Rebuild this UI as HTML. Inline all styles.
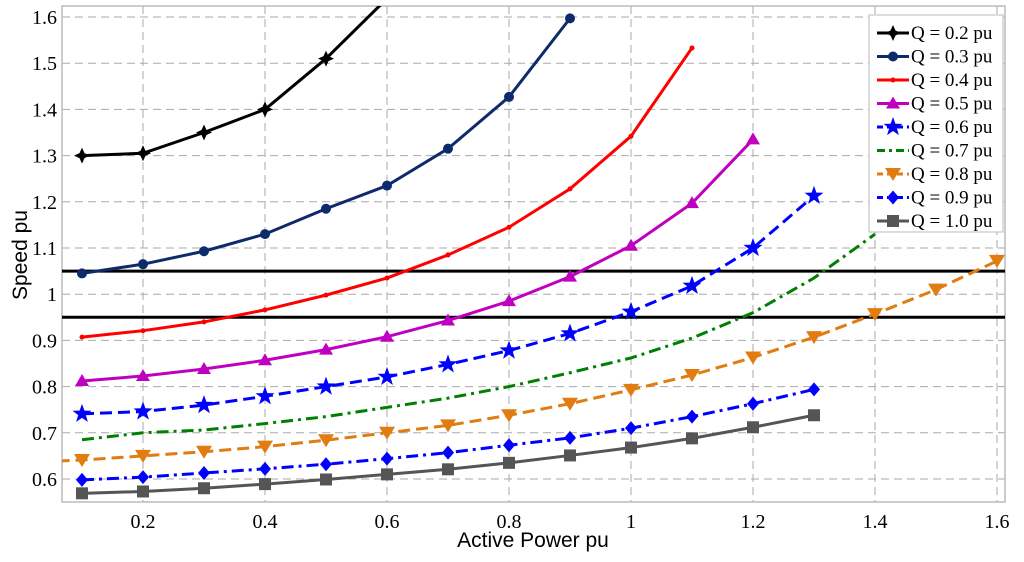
<!DOCTYPE html>
<html><head><meta charset="utf-8"><style>
body{margin:0;background:#fff;width:1024px;height:557px;overflow:hidden}
svg text{font-family:"Liberation Serif",serif}
</style></head><body>
<svg id="chart" width="1024" height="557" xmlns="http://www.w3.org/2000/svg"></svg>
<script>
const xTicks=[0.2,0.4,0.6,0.8,1,1.2,1.4,1.6];
const xTickLabels=["0.2","0.4","0.6","0.8","1","1.2","1.4","1.6"];
const yTicks=[0.6,0.7,0.8,0.9,1,1.1,1.2,1.3,1.4,1.5,1.6];
const yTickLabels=["0.6","0.7","0.8","0.9","1","1.1","1.2","1.3","1.4","1.5","1.6"];
const seriesNames=["Q = 0.2 pu","Q = 0.3 pu","Q = 0.4 pu","Q = 0.5 pu","Q = 0.6 pu","Q = 0.7 pu","Q = 0.8 pu","Q = 0.9 pu","Q = 1.0 pu"];
const xQ02=[0.1,0.2,0.3,0.4,0.5,0.6];
const yQ02=[1.30,1.305,1.35,1.40,1.51,1.64];
const xQ03=[0.1,0.2,0.3,0.4,0.5,0.6,0.7,0.8,0.9];
const yQ03=[1.045,1.065,1.093,1.13,1.185,1.235,1.315,1.427,1.597];
const xQ04=[0.1,0.2,0.3,0.4,0.5,0.6,0.7,0.8,0.9,1.0,1.1];
const yQ04=[0.907,0.921,0.94,0.966,0.998,1.035,1.085,1.145,1.228,1.342,1.533];
const xQ05=[0.1,0.2,0.3,0.4,0.5,0.6,0.7,0.8,0.9,1.0,1.1,1.2];
const yQ05=[0.812,0.823,0.838,0.857,0.88,0.908,0.943,0.985,1.038,1.105,1.197,1.335];
const xQ06=[0.1,0.2,0.3,0.4,0.5,0.6,0.7,0.8,0.9,1.0,1.1,1.2,1.3];
const yQ06=[0.741,0.746,0.76,0.779,0.8,0.821,0.848,0.878,0.915,0.962,1.018,1.1,1.213];
const xQ07=[0.1,0.2,0.3,0.4,0.5,0.6,0.7,0.8,0.9,1.0,1.1,1.2,1.3,1.4];
const yQ07=[0.685,0.7,0.706,0.72,0.735,0.755,0.775,0.8,0.83,0.862,0.905,0.96,1.035,1.13];
const xQ08=[0.06,0.1,0.2,0.3,0.4,0.5,0.6,0.7,0.8,0.9,1.0,1.1,1.2,1.3,1.4,1.5,1.6];
const yQ08=[0.639,0.641,0.65,0.659,0.67,0.684,0.7,0.716,0.738,0.763,0.793,0.825,0.863,0.907,0.957,1.01,1.072];
const xQ09=[0.1,0.2,0.3,0.4,0.5,0.6,0.7,0.8,0.9,1.0,1.1,1.2,1.3];
const yQ09=[0.598,0.604,0.613,0.622,0.632,0.644,0.657,0.673,0.689,0.71,0.735,0.763,0.794];
const xQ10=[0.1,0.2,0.3,0.4,0.5,0.6,0.7,0.8,0.9,1.0,1.1,1.2,1.3];
const yQ10=[0.569,0.573,0.58,0.589,0.599,0.61,0.621,0.635,0.651,0.668,0.688,0.712,0.738];
const limits=[1.05,0.95];

const NS="http://www.w3.org/2000/svg";
const svg=document.getElementById('chart');
const L=62,R=1005,T=6,B=502;
function X(v){return 21+v*610;}
function Y(v){return 479-(v-0.6)*462;}
function mk(tag,attrs,parent){const e=document.createElementNS(NS,tag);for(const k in attrs)e.setAttribute(k,attrs[k]);(parent||svg).appendChild(e);return e;}

const defs=mk('defs',{});
const cp=mk('clipPath',{id:'clip'},defs);mk('rect',{x:L,y:T,width:R-L,height:B-T},cp);

const grid=mk('g',{});


xTicks.forEach((t,i)=>{
  const l=mk('line',{x1:X(t),x2:X(t),y1:T,y2:B,stroke:'#aaa','stroke-dasharray':'8,5','stroke-width':1},grid);
  
  
  const tx=mk('text',{x:X(t),y:528,'font-size':20,'text-anchor':'middle'});
  tx.textContent=xTickLabels[i];
  
  
});
yTicks.forEach((t,i)=>{
  const l=mk('line',{x1:L,x2:R,y1:Y(t),y2:Y(t),stroke:'#aaa','stroke-dasharray':'8,5','stroke-width':1},grid);
  
  
  const tx=mk('text',{x:57,y:Y(t)+7,'font-size':20,'text-anchor':'end'});
  tx.textContent=yTickLabels[i];
  
  
});
const frame=mk('rect',{x:L,y:T,width:R-L,height:B-T,fill:'none',stroke:'#bbb','stroke-width':1.5});



const plot=mk('g',{'clip-path':'url(#clip)'});
limits.forEach(v=>{
  const l=mk('line',{x1:L,x2:R,y1:Y(v),y2:Y(v),stroke:'#000','stroke-width':3},plot);
  
  
});

function marker(g,type,x,y,c){
  let e;
  if(type==='star4'){e=mk('path',{d:`M${x},${y-8}L${x+2.5},${y-2.5}L${x+8},${y}L${x+2.5},${y+2.5}L${x},${y+8}L${x-2.5},${y+2.5}L${x-8},${y}L${x-2.5},${y-2.5}Z`,fill:c},g);}
  else if(type==='circle'){e=mk('circle',{cx:x,cy:y,r:5,fill:c},g);}
  else if(type==='dot'){e=mk('circle',{cx:x,cy:y,r:2.5,fill:c},g);}
  else if(type==='tri'){e=mk('path',{d:`M${x},${y-7}L${x+7},${y+5}L${x-7},${y+5}Z`,fill:c},g);}
  else if(type==='star5'){let p='';for(let k=0;k<10;k++){const r=k%2?4:10,a=-Math.PI/2+k*Math.PI/5;p+=(k?'L':'M')+(x+r*Math.cos(a)).toFixed(1)+','+(y+r*Math.sin(a)).toFixed(1);}e=mk('path',{d:p+'Z',fill:c},g);}
  else if(type==='tridown'){e=mk('path',{d:`M${x},${y+7}L${x+8},${y-6}L${x-8},${y-6}Z`,fill:c},g);}
  else if(type==='diamond'){e=mk('path',{d:`M${x},${y-7}L${x+6},${y}L${x},${y+7}L${x-6},${y}Z`,fill:c},g);}
  else if(type==='square'){e=mk('rect',{x:x-6,y:y-6,width:12,height:12,fill:c},g);}
  return e;
}
const styles=[
 {xs:xQ02,ys:yQ02,c:'#000',d:'',m:'star4'},
 {xs:xQ03,ys:yQ03,c:'#0d2a6b',d:'',m:'circle'},
 {xs:xQ04,ys:yQ04,c:'#f00',d:'',m:'dot'},
 {xs:xQ05,ys:yQ05,c:'#c000c0',d:'',m:'tri'},
 {xs:xQ06,ys:yQ06,c:'#0000ff',d:'12,6',m:'star5'},
 {xs:xQ07,ys:yQ07,c:'#008000',d:'12,5,3,5',m:null},
 {xs:xQ08,ys:yQ08,c:'#e07c10',d:'12,6',m:'tridown'},
 {xs:xQ09,ys:yQ09,c:'#0000ff',d:'12,5,3,5',m:'diamond'},
 {xs:xQ10,ys:yQ10,c:'#555',d:'',m:'square'}
];
styles.forEach((s,i)=>{
  const g=mk('g',{},plot);
  
  
  const pts=s.xs.map((x,j)=>X(x)+','+Y(s.ys[j])).join(' ');
  const pl=mk('polyline',{points:pts,fill:'none',stroke:s.c,'stroke-width':3,'stroke-dasharray':s.d},g);
  
  
  if(s.m) s.xs.forEach((x,j)=>{ if(x<0.09) return; const e=marker(g,s.m,X(x),Y(s.ys[j]),s.c);
    
    });
});

const leg=mk('g',{});


mk('rect',{x:869,y:15,width:134,height:217,fill:'#fff',stroke:'#bbb','stroke-width':1},leg);
styles.forEach((s,i)=>{
  const y=33+i*23.5;
  const g=mk('g',{},leg);
  
  
  mk('line',{x1:877,x2:909,y1:y,y2:y,stroke:s.c,'stroke-width':3,'stroke-dasharray':s.d?(s.m?'6,4':'8,4,3,4'):''},g);
  if(s.m) marker(g,s.m,893,y,s.c);
  const t=mk('text',{x:911,y:y+6,'font-size':19},g);
  t.textContent=seriesNames[i];
});

const xl=mk('text',{x:533,y:547,'font-size':21,'text-anchor':'middle','style':'font-family:"Liberation Sans",sans-serif'});
xl.textContent='Active Power pu';


const yl=mk('text',{x:0,y:0,'font-size':21,'text-anchor':'middle','transform':'translate(27,255) rotate(-90)','style':'font-family:"Liberation Sans",sans-serif'});
yl.textContent='Speed pu';


</script>
</body></html>
